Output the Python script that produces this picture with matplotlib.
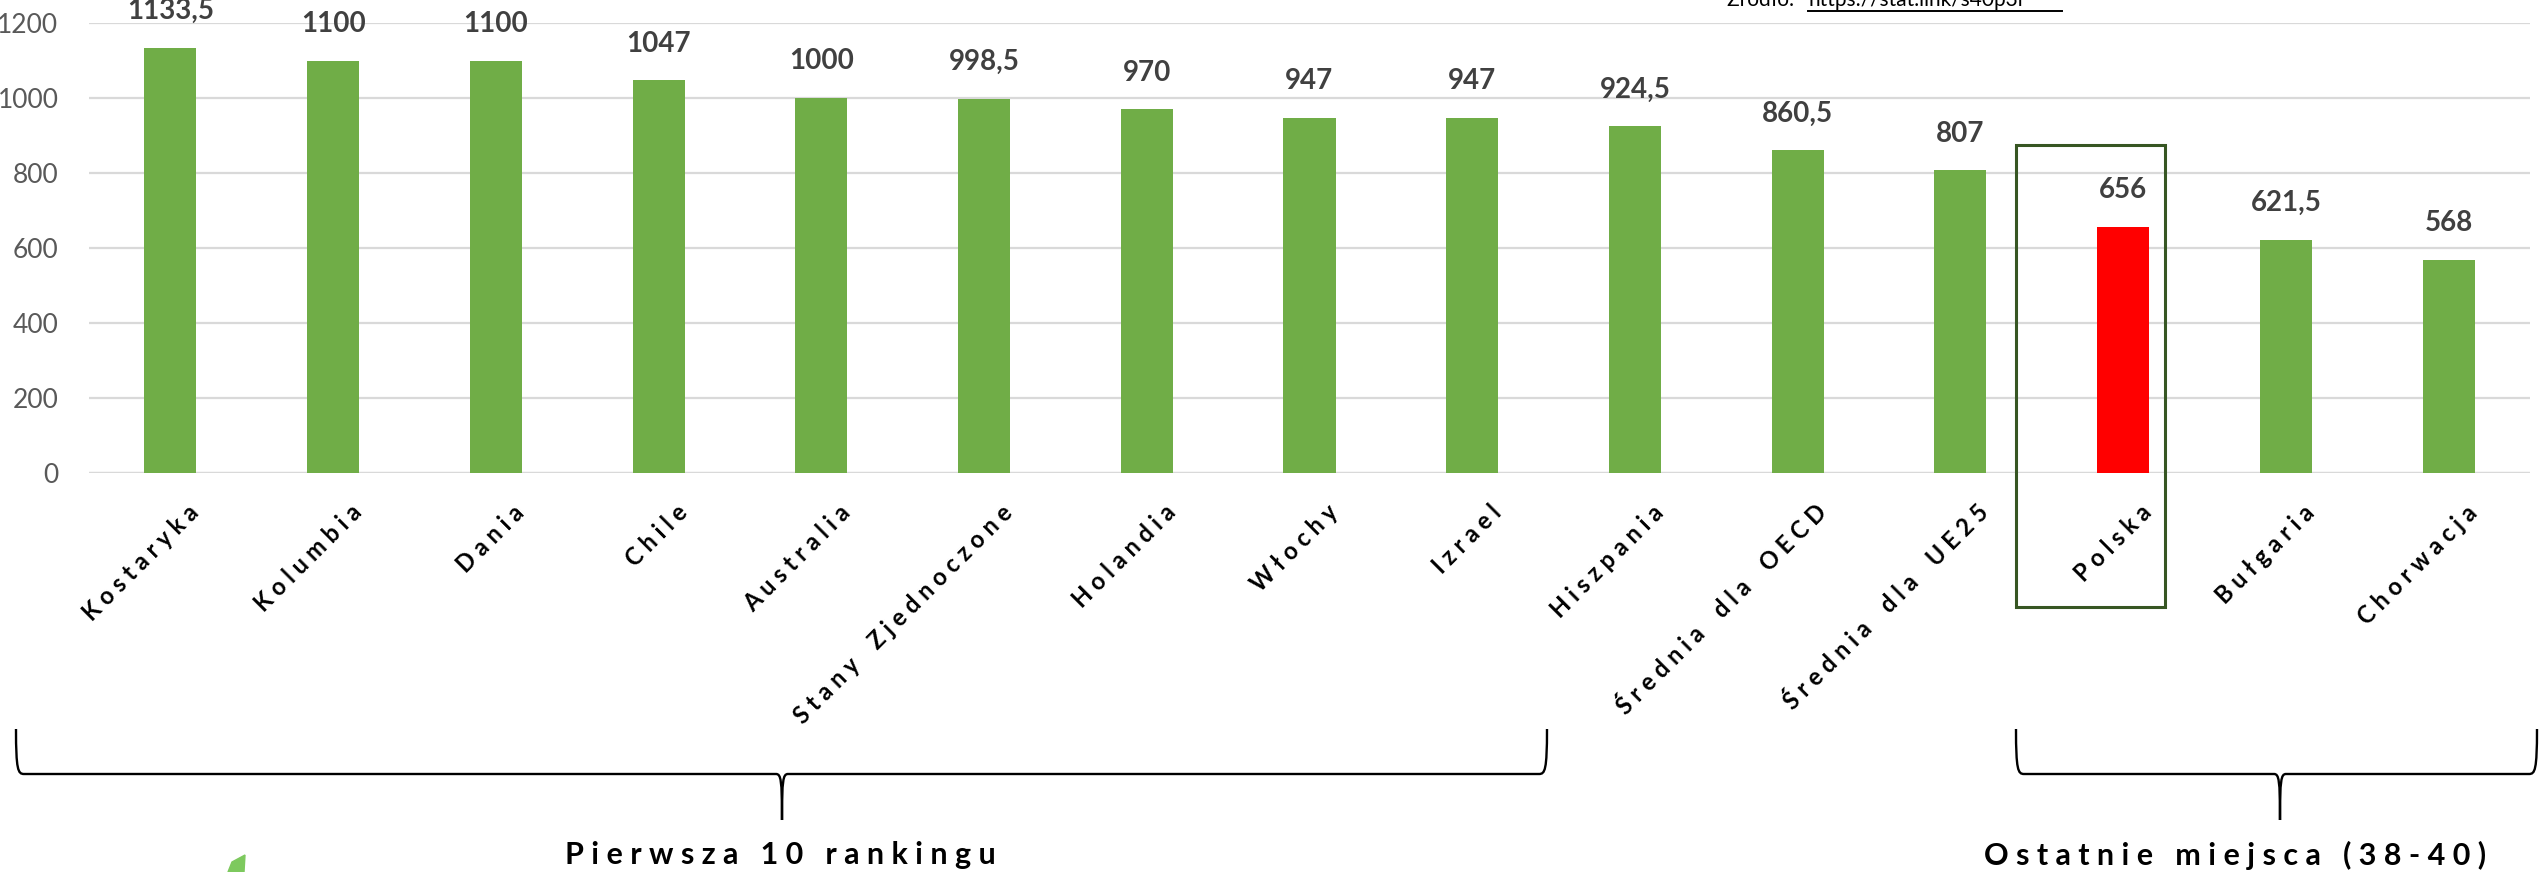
import matplotlib
matplotlib.use("Agg")
import matplotlib.pyplot as plt
from matplotlib.patches import Rectangle, PathPatch, Polygon
from matplotlib.path import Path

W, H = 2539, 872

countries = ["Kostaryka", "Kolumbia", "Dania", "Chile", "Australia",
             "Stany Zjednoczone", "Holandia", "Włochy", "Izrael", "Hiszpania",
             "Średnia dla OECD", "Średnia dla UE25", "Polska", "Bułgaria", "Chorwacja"]
values = [1133.5, 1100, 1100, 1047, 1000, 998.5, 970, 947, 947, 924.5,
          860.5, 807, 656, 621.5, 568]
value_labels = ["1133,5", "1100", "1100", "1047", "1000", "998,5", "970", "947", "947",
                "924,5", "860,5", "807", "656", "621,5", "568"]
yticks = [0, 200, 400, 600, 800, 1000, 1200]

plt.rcParams['font.family'] = ['Lato', 'DejaVu Sans']

fig = plt.figure(figsize=(W / 100, H / 100), dpi=100)


# helper: pixel position -> figure fraction
def fx(x):
    return x / W


def fy(y):
    return 1 - y / H


ax = fig.add_axes([fx(89), fy(473), (2530 - 89) / W, (473 - 23) / H])
colors = ["#70AD47"] * len(values)
colors[countries.index("Polska")] = "#FF0000"
xs = list(range(len(values)))
ax.bar(xs, values, width=0.32, color=colors, zorder=3)
ax.set_xlim(-0.5, len(values) - 0.5)
ax.set_ylim(0, 1200)
ax.set_yticks(yticks)
ax.set_xticks([])
ax.grid(axis='y', color='#D9D9D9', linewidth=1.6, zorder=0)
ax.tick_params(axis='y', length=0, labelsize=19, labelcolor='#595959', pad=22)
for s in ax.spines.values():
    s.set_visible(False)
ax.axhline(0, color='#D9D9D9', linewidth=1.6, zorder=1)
ax.patch.set_alpha(0)

# data labels
for x, v, t in zip(xs, values, value_labels):
    ax.annotate(t, (x, v), xytext=(0, 17), textcoords='offset points', ha='center', va='bottom',
                fontsize=20, fontweight='bold', color='#404040', zorder=5, annotation_clip=False)

# rotated category labels, letter spaced
for x, name in zip(xs, countries):
    spaced = " ".join(name).replace("   ", "    ")
    ax.annotate(spaced, (x, 0), xytext=(12, -20), textcoords='offset points', rotation=45,
                rotation_mode='anchor', ha='right', va='top', fontsize=17, fontweight='bold',
                color='black', annotation_clip=False)

# frame around Polska
fig.add_artist(Rectangle((fx(2016), fy(607)), (2165 - 2016) / W, (607 - 145) / H, fill=False,
                         edgecolor='#375623', linewidth=2.2, transform=fig.transFigure))


def brace(x0, x1, xm):
    # curly brace drawn in pixel coordinates
    top, mid, tip = 729, 774, 820
    pts = [(x0, top), (x0, mid - 4), (x0 + 2, mid), (x0 + 8, mid), (xm - 6, mid), (xm - 1, mid), (xm, mid + 6),
           (xm, tip), (xm, mid + 6), (xm + 1, mid), (xm + 6, mid), (x1 - 8, mid), (x1 - 2, mid), (x1, mid - 4),
           (x1, top)]
    codes = [Path.MOVETO, Path.CURVE4, Path.CURVE4, Path.CURVE4, Path.LINETO, Path.CURVE4, Path.CURVE4,
             Path.CURVE4, Path.CURVE4, Path.CURVE4, Path.CURVE4, Path.LINETO, Path.CURVE4, Path.CURVE4, Path.CURVE4]
    path = Path([(fx(a), fy(b)) for a, b in pts], codes)
    fig.add_artist(PathPatch(path, fill=False, edgecolor='black', linewidth=1.7, transform=fig.transFigure))


brace(16, 1547, 782)
brace(2016, 2537, 2280)

fig.text(fx(780), fy(855), "P i e r w s z a   1 0   r a n k i n g u", ha='center', va='center',
         fontsize=22, fontweight='bold', color='black')
fig.text(fx(2235), fy(855), "O s t a t n i e   m i e j s c a   ( 3 8 - 4 0 )", ha='center', va='center',
         fontsize=22, fontweight='bold', color='black')

# source, cut off by the top edge
fig.text(fx(1727), fy(0), "Źródło: ", ha='left', va='center', fontsize=15, color='black')
fig.text(fx(1808), fy(0), "https://stat.link/s40p3i", ha='left', va='center', fontsize=15, color='black')
fig.add_artist(plt.Line2D([fx(1808), fx(2062)], [fy(11), fy(11)], color='black', linewidth=1.4))

# bit of the logo leaf at the bottom edge
fig.add_artist(Polygon([(fx(228), fy(872)), (fx(232), fy(862)), (fx(245), fy(855)), (fx(244), fy(872))],
                       closed=True, color='#7DC95E', transform=fig.transFigure))

fig.savefig("out.png", dpi=100)
